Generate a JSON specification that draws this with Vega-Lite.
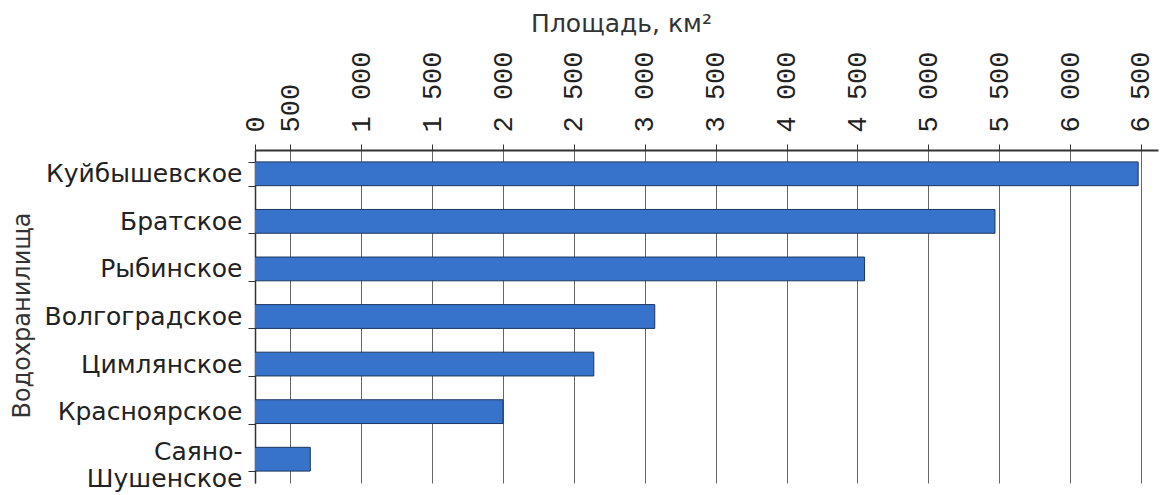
{
  "$schema": "https://vega.github.io/schema/vega-lite/v6.json",
  "width": 903,
  "height": 333,
  "autosize": {"type": "none"},
  "padding": {"left": 255, "top": 150, "right": 6, "bottom": 12},
  "background": "white",
  "config": {"view": {"stroke": null}},
  "data": {
    "values": [
      {"name": "Куйбышевское", "area": 6480},
      {"name": "Братское", "area": 5470},
      {"name": "Рыбинское", "area": 4550},
      {"name": "Волгоградское", "area": 3070},
      {"name": "Цимлянское", "area": 2640},
      {"name": "Красноярское", "area": 2000},
      {"name": "Саяно-Шушенское", "area": 640}
    ]
  },
  "mark": {"type": "bar", "clip": true, "color": "#3873cb", "stroke": "#1c3660", "strokeWidth": 1},
  "encoding": {
    "y": {
      "field": "name",
      "type": "nominal",
      "sort": null,
      "scale": {"paddingInner": 0.5, "paddingOuter": 0.25},
      "axis": {
        "title": "Водохранилища",
        "titleFont": "DejaVu Sans",
        "titleFontSize": 24,
        "titleFontWeight": "normal",
        "titleColor": "#333",
        "titleAngle": -90,
        "titleX": -233,
        "titleY": 165,
        "titleAlign": "center",
        "titleBaseline": "middle",
        "labelFont": "DejaVu Sans",
        "labelFontSize": 25,
        "labelColor": "#222",
        "labelPadding": 6,
        "labelLimit": 400,
        "labelLineHeight": 27,
        "labelOffset": {"condition": {"test": "datum.value == 'Саяно-Шушенское'", "value": -8}, "value": 0},
        "labelExpr": "datum.value == 'Саяно-Шушенское' ? ['Саяно-', 'Шушенское'] : datum.label",
        "tickSize": 7,
        "tickBand": "extent",
        "tickColor": "#333",
        "domainColor": "#333",
        "domainWidth": 1.5,
        "grid": false
      }
    },
    "x": {
      "field": "area",
      "type": "quantitative",
      "scale": {"domain": [250, 6620], "zero": false, "nice": false},
      "axis": {
        "orient": "top",
        "values": [250, 500, 1000, 1500, 2000, 2500, 3000, 3500, 4000, 4500, 5000, 5500, 6000, 6500],
        "labelExpr": "datum.value == 250 ? '0' : replace(format(datum.value, ','), ',', ' ')",
        "labelAngle": -90,
        "labelAlign": "left",
        "labelBaseline": "middle",
        "labelFont": "Liberation Mono",
        "labelFontSize": 27,
        "labelColor": "#222",
        "labelPadding": 12,
        "labelFlush": false,
        "labelOverlap": false,
        "tickSize": 6,
        "tickColor": "#333",
        "domainColor": "#333",
        "domainWidth": 2,
        "grid": true,
        "gridColor": "#666",
        "gridWidth": 1,
        "title": "Площадь, км²",
        "titleFont": "DejaVu Sans",
        "titleFontSize": 25,
        "titleFontWeight": "normal",
        "titleColor": "#333",
        "titleX": 366,
        "titleY": -127,
        "titleAlign": "center",
        "titleBaseline": "middle"
      }
    }
  }
}
